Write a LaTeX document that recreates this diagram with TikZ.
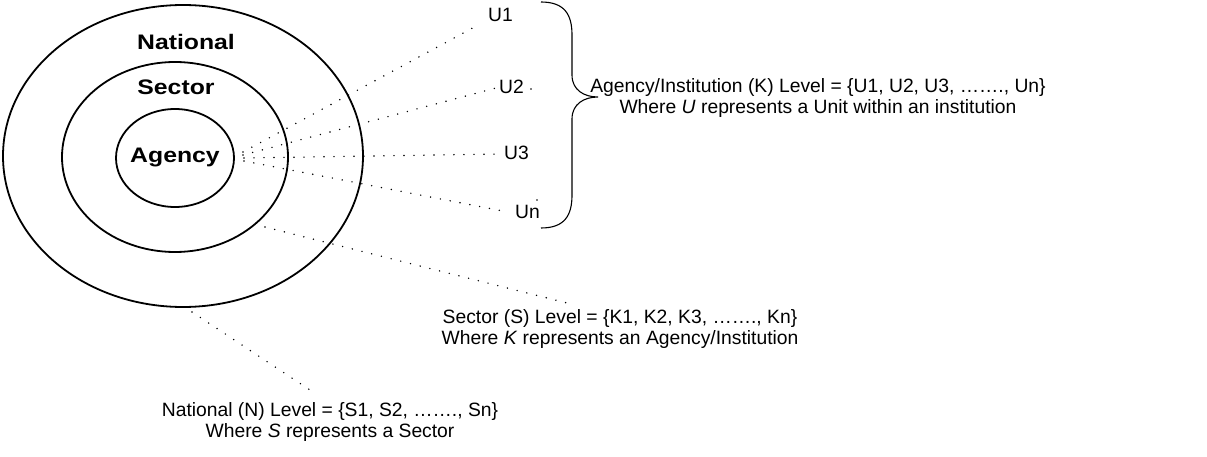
\documentclass[tikz,border=0pt]{standalone}
\usepackage{fontspec}
\setmainfont{Liberation Sans}
\usetikzlibrary{shapes.geometric}
\begin{document}
\begin{tikzpicture}[x=1pt,y=-1pt,
  ring/.style={draw, line width=1.8pt, ellipse, inner sep=0pt},
  lvl/.style={font=\fontsize{21}{24}\selectfont\bfseries, xscale=1.18, inner sep=0pt},
  utxt/.style={font=\fontsize{19.3}{21.5}\selectfont, inner sep=0pt, anchor=west},
  desc/.style={font=\fontsize{19.3}{21.5}\selectfont, align=center, inner sep=0pt},
  dots/.style={line width=1.6pt, line cap=round, dash pattern=on 0pt off 10pt},
  speck/.style={fill=black, circle, inner sep=0pt, minimum size=1.6pt},
  brace/.style={line width=1.1pt}]
\useasboundingbox (0,0) rectangle (1207,457);
% rings
\node[ring, minimum width=360pt, minimum height=302pt] (nat) at (183,156) {};
\node[ring, minimum width=226pt, minimum height=190pt] (sec) at (175,157) {};
\node[ring, minimum width=118pt, minimum height=98pt] (agc) at (175,158) {};
% ring labels
\node[lvl] (natl) at (186,42) {National};
\node[lvl] (secl) at (176,87) {Sector};
\node[lvl] (agcl) at (175,158) {Agency};
% units
\node[utxt] (u1) at (488,15) {U1};
\node[utxt] (u2) at (499,87) {U2};
\node[utxt] (u3) at (504,153) {U3};
\node[utxt] (un) at (515,212) {Un};
% fan of dotted lines
\coordinate (f1) at (243,152);
\coordinate (f2) at (243,155);
\coordinate (f3) at (244,158);
\coordinate (f4) at (244,161);
\coordinate (e1) at (480,24);
\coordinate (e2) at (496,88);
\coordinate (e3) at (500,154);
\coordinate (en) at (508,212);
\draw[dots] (f1) -- (e1);
\draw[dots] (f2) -- (e2);
\draw[dots] (f3) -- (e3);
\draw[dots] (f4) -- (en);
\node[speck] (sp1) at (531,89) {};
\node[speck] (sp2) at (537,200) {};
% brace
\coordinate (bt) at (541,2);
\coordinate (btip) at (598,97);
\coordinate (bb) at (541,228);
\draw[brace] (bt) .. controls (565,2) and (572,15) .. (572,35) -- (572,75)
  .. controls (572,90) and (584,97) .. (btip)
  .. controls (584,97) and (572,104) .. (572,119) -- (572,195)
  .. controls (572,215) and (565,228) .. (bb);
% descriptions
\node[desc] (kdesc) at (818,98) {Agency/Institution (K) Level = \{U1, U2, U3, …….,~Un\}\\Where \textit{U} represents a Unit within an institution};
\node[desc] (sdesc) at (620,329) {Sector (S) Level = \{K1, K2, K3, …….,~Kn\}\\Where \textit{K} represents an Agency/Institution};
\node[desc] (ndesc) at (330,422) {National (N) Level = \{S1, S2, …….,~Sn\}\\Where \textit{S} represents a Sector};
% leader lines
\coordinate (ss) at (265,227);
\coordinate (se) at (567,303);
\coordinate (ns) at (192,312);
\coordinate (ne) at (313,392);
\draw[dots] (ss) -- (se);
\draw[dots] (ns) -- (ne);
\end{tikzpicture}
\end{document}
